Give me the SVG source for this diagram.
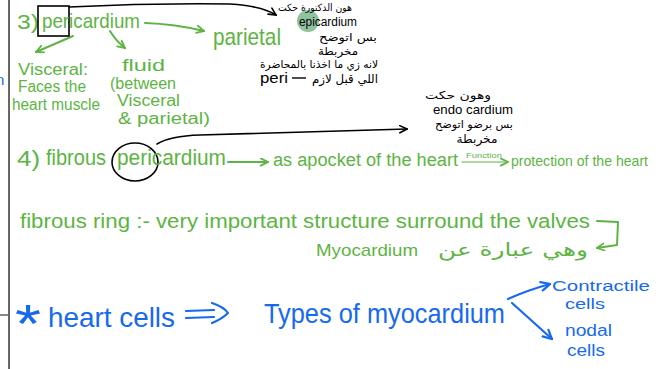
<svg xmlns="http://www.w3.org/2000/svg" width="671" height="369" viewBox="0 0 671 369">
<defs>
<style>
.g{fill:#5db443;font-family:"Liberation Sans",sans-serif}
.b{fill:#1769ee;font-family:"Liberation Sans",sans-serif}
.k{fill:#000;font-family:"Liberation Sans","DejaVu Sans",sans-serif}
.ar{fill:#000;font-family:"DejaVu Sans",sans-serif}
.arg{fill:#5db443;font-family:"DejaVu Sans",sans-serif}
.lg{fill:none;stroke:#5db443;stroke-width:2;stroke-linecap:round;stroke-linejoin:round}
.lk{fill:none;stroke:#000;stroke-width:1.6;stroke-linecap:round;stroke-linejoin:round}
.lb{fill:none;stroke:#1769ee;stroke-width:2.2;stroke-linecap:round;stroke-linejoin:round}
</style>
<marker id="mg" viewBox="0 0 10 10" refX="9" refY="5" markerWidth="9" markerHeight="9" markerUnits="userSpaceOnUse" orient="auto"><path d="M1,1 L9,5 L1,9" fill="none" stroke="#5db443" stroke-width="2" stroke-linecap="round"/></marker>
<marker id="mk" viewBox="0 0 10 10" refX="9" refY="5" markerWidth="9" markerHeight="9" markerUnits="userSpaceOnUse" orient="auto"><path d="M1,1 L9,5 L1,9" fill="none" stroke="#000" stroke-width="1.8" stroke-linecap="round"/></marker>
<marker id="mb" viewBox="0 0 10 10" refX="9" refY="5" markerWidth="11" markerHeight="11" markerUnits="userSpaceOnUse" orient="auto"><path d="M1,1 L9,5 L1,9" fill="none" stroke="#1769ee" stroke-width="2" stroke-linecap="round"/></marker>
</defs>
<rect width="671" height="369" fill="#fff"/>
<g id="margin">
<line x1="9" y1="0" x2="9" y2="369" stroke="#333" stroke-width="1.5"/>
<line x1="0" y1="315" x2="8" y2="315" stroke="#888" stroke-width="2"/>
<text class="b" x="-4" y="85" font-size="15">n</text>
</g>
<g id="connectors">
<path class="lg" d="M145,23 Q175,24 204,31" marker-end="url(#mg)"/>
<path class="lg" d="M73,36 L36,52" marker-end="url(#mg)"/>
<path class="lg" d="M110,31 Q116,41 125,48" marker-end="url(#mg)"/>
<path class="lk" d="M69,7 Q150,3 230,4 Q262,6 276,15" marker-end="url(#mk)"/>
<path class="lk" d="M157,144 Q170,136 200,135 L407,129" marker-end="url(#mk)"/>
<path class="lg" d="M228,162 L268,162" marker-end="url(#mg)"/>
<path class="lg" style="stroke-width:1.2" d="M462,162 L508,162" marker-end="url(#mg)"/>
<path class="lg" d="M597,221 L618,222 L617,245 L597,248" marker-end="url(#mg)"/>
<path class="lb" d="M186,311 L214,310 M186,318 L214,317 M212,303 Q224,307 228,313 Q222,319 212,323"/>
<path class="lb" d="M508,299 Q528,290 550,284" marker-end="url(#mb)"/>
<path class="lb" d="M512,303 L552,339" marker-end="url(#mb)"/>
</g>
<g id="n-pericardium">
<text class="g" x="17" y="29" font-size="21" textLength="22" lengthAdjust="spacingAndGlyphs">3)</text>
<rect x="38" y="6" width="31" height="30" fill="none" stroke="#000" stroke-width="1.6"/>
<text class="g" x="42" y="28" font-size="21" textLength="98" lengthAdjust="spacingAndGlyphs">pericardium</text>
</g>
<g id="n-parietal">
<text class="g" x="213" y="45" font-size="24" textLength="68" lengthAdjust="spacingAndGlyphs">parietal</text>
</g>
<g id="n-visceral">
<text class="g" x="18" y="75" font-size="16" textLength="70" lengthAdjust="spacingAndGlyphs">Visceral:</text>
<text class="g" x="18" y="92" font-size="16" textLength="68" lengthAdjust="spacingAndGlyphs">Faces the</text>
<text class="g" x="12" y="110" font-size="16" textLength="88" lengthAdjust="spacingAndGlyphs">heart muscle</text>
</g>
<g id="n-fluid">
<text class="g" x="122" y="71" font-size="16" textLength="43" lengthAdjust="spacingAndGlyphs">fluid</text>
<text class="g" x="110" y="89" font-size="16" textLength="66" lengthAdjust="spacingAndGlyphs">(between</text>
<text class="g" x="117" y="106" font-size="16" textLength="63" lengthAdjust="spacingAndGlyphs">Visceral</text>
<text class="g" x="118" y="124" font-size="16" textLength="92" lengthAdjust="spacingAndGlyphs">&amp; parietal)</text>
</g>
<g id="n-note-epi">
<circle cx="308" cy="21" r="11" fill="#8fc29f"/>
<text class="ar" x="315" y="11" font-size="10" text-anchor="middle" textLength="74" lengthAdjust="spacingAndGlyphs">هون الدكتورة حكت</text>
<text class="k" x="299" y="26" font-size="12" textLength="58" lengthAdjust="spacingAndGlyphs">epicardium</text>
<text class="ar" x="348" y="41" font-size="11" text-anchor="middle" textLength="58" lengthAdjust="spacingAndGlyphs">بس اتوضح</text>
<text class="ar" x="338" y="55" font-size="11" text-anchor="middle" textLength="40" lengthAdjust="spacingAndGlyphs">مخربطة</text>
<text class="ar" x="319" y="68" font-size="11" text-anchor="middle" textLength="118" lengthAdjust="spacingAndGlyphs">لانه زي ما اخذنا بالمحاضرة</text>
<text class="k" x="260" y="83" font-size="14" textLength="28" lengthAdjust="spacingAndGlyphs">peri</text>
<line x1="292" y1="78" x2="306" y2="78" stroke="#000" stroke-width="1.4"/>
<text class="ar" x="345" y="83" font-size="12" text-anchor="middle" textLength="66" lengthAdjust="spacingAndGlyphs">اللي قبل لازم</text>
</g>
<g id="n-note-endo">
<text class="ar" x="458" y="99" font-size="11" text-anchor="middle" textLength="66" lengthAdjust="spacingAndGlyphs">وهون حكت</text>
<text class="k" x="433" y="114" font-size="13" textLength="80" lengthAdjust="spacingAndGlyphs">endo cardium</text>
<text class="ar" x="474" y="128" font-size="11" text-anchor="middle" textLength="78" lengthAdjust="spacingAndGlyphs">بس برضو اتوضح</text>
<text class="ar" x="477" y="143" font-size="12" text-anchor="middle" textLength="41" lengthAdjust="spacingAndGlyphs">مخربطة</text>
</g>
<g id="n-fibrous">
<text class="g" x="17" y="166" font-size="22" textLength="23" lengthAdjust="spacingAndGlyphs">4)</text>
<text class="g" x="46" y="165" font-size="22" textLength="60" lengthAdjust="spacingAndGlyphs">fibrous</text>
<ellipse cx="135" cy="162" rx="23" ry="19" fill="none" stroke="#000" stroke-width="1.6"/>
<text class="g" x="117" y="165" font-size="22" textLength="109" lengthAdjust="spacingAndGlyphs">pericardium</text>
</g>
<g id="n-pocket">
<text class="g" x="273" y="166" font-size="18" textLength="185" lengthAdjust="spacingAndGlyphs">as apocket of the heart</text>
<text class="g" x="466" y="158" font-size="7" textLength="36" lengthAdjust="spacingAndGlyphs">Function</text>
</g>
<g id="n-protection">
<text class="g" x="511" y="166" font-size="15" textLength="137" lengthAdjust="spacingAndGlyphs">protection of the heart</text>
</g>
<g id="n-ring">
<text class="g" x="20" y="228" font-size="20" textLength="570" lengthAdjust="spacingAndGlyphs">fibrous ring :- very important structure surround the valves</text>
</g>
<g id="n-myocardium">
<text class="g" x="316" y="256" font-size="17" textLength="102" lengthAdjust="spacingAndGlyphs">Myocardium</text>
<text class="arg" x="513" y="256" font-size="18" text-anchor="middle" textLength="150" lengthAdjust="spacingAndGlyphs">وهي عبارة عن</text>
</g>
<g id="n-heart-cells">
<text class="b" x="15" y="342" font-size="54" textLength="26" lengthAdjust="spacingAndGlyphs">*</text>
<text class="b" x="48" y="327" font-size="28" textLength="127" lengthAdjust="spacingAndGlyphs">heart cells</text>
</g>
<g id="n-types">
<text class="b" x="264" y="323" font-size="28" textLength="241" lengthAdjust="spacingAndGlyphs">Types of myocardium</text>
</g>
<g id="n-contractile">
<text class="b" x="552" y="291" font-size="15.5" textLength="98" lengthAdjust="spacingAndGlyphs">Contractile</text>
<text class="b" x="565" y="309" font-size="15.5" textLength="40" lengthAdjust="spacingAndGlyphs">cells</text>
</g>
<g id="n-nodal">
<text class="b" x="565" y="336" font-size="16" textLength="47" lengthAdjust="spacingAndGlyphs">nodal</text>
<text class="b" x="567" y="356" font-size="16" textLength="38" lengthAdjust="spacingAndGlyphs">cells</text>
</g>
</svg>
